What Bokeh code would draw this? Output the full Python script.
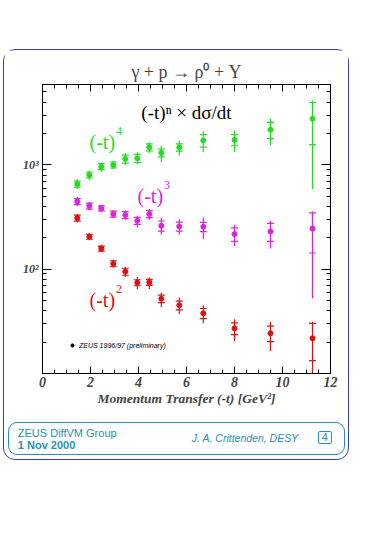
from bokeh.plotting import figure
from bokeh.layouts import column
from bokeh.models import (Range1d, LogAxis, LinearAxis, Label, Legend, Div,
                          LegendItem, ColumnDataSource, SingleIntervalTicker, LogTicker,
                          CustomJSTickFormatter)
from bokeh.embed import file_html
from bokeh.resources import INLINE

# ---------------- data ----------------
t = [1.45, 1.95, 2.45, 2.95, 3.45, 3.95, 4.45, 4.95, 5.7, 6.7, 8.0, 9.5, 11.25]

n4_val = [656, 802, 963, 1000, 1142, 1157, 1475, 1304, 1475, 1713, 1738, 2174, 2767]
n4_stat = [43, 53, 64, 66, 101, 103, 114, 111, 119, 235, 212, 385, 1200]
n4_hi = [733, 877, 1053, 1093, 1304, 1321, 1648, 1532, 1711, 2105, 2136, 2774, 4150]
n4_lo = [587, 718, 862, 915, 1000, 1013, 1292, 1059, 1227, 1322, 1324, 1536, 588]

n3_val = [446, 404, 383, 338, 331, 291, 338, 261, 257, 255, 217, 230, 245]
n3_stat = [29.6, 26.8, 21, 22.4, 25.6, 22.5, 26, 28.8, 25.6, 26.2, 32.1, 45, 102]
n3_hi = [495, 442, 412, 367, 366, 325, 378, 310, 302, 313, 267, 292, 358]
n3_lo = [402, 370, 356, 312, 300, 251, 296, 214, 214, 194, 167, 158, 52.6]

n2_val = [309, 205, 158, 113, 94.8, 74.3, 75, 52.1, 45.1, 37.8, 27.1, 24.3, 21.8]
n2_stat = [20.5, 11.3, 8.7, 7.5, 7.3, 4.9, 5.0, 4.2, 4.3, 4.2, 3.5, 4.1, 8.5]
n2_hi = [339, 221, 170, 123, 105, 84.3, 83.8, 59.5, 53.5, 45.1, 33.1, 31.2, 31.1]
n2_lo = [282, 190, 147, 104, 84.3, 64.1, 64.7, 43.3, 37, 30.3, 20.5, 16.4, 8]

x_ticks_labels = {0: "0", 2: "2", 4: "4", 6: "6", 8: "8", 10: "10", 12: "12"}
y_ticks_labels = {10: "", 100: "10²", 1000: "10³"}

GREEN = "#22dd22"
MAGENTA = "#dd22dd"
RED = "#dd1111"
BLUE = "#3a3ab8"
TEAL = "#2a8fb5"

# ---------------- figure ----------------
BL, BT, FW, FH, BR, BB = 38, 34, 288, 289, 18, 48
p = figure(frame_width=FW, frame_height=FH, min_border_left=BL, min_border_top=BT,
           min_border_right=BR, min_border_bottom=BB,
           x_range=Range1d(0, 12), y_range=Range1d(10, 5900), y_axis_type="log",
           output_backend="svg", toolbar_location=None,
           background_fill_color="white", border_fill_color="white",
           title="γ + p → ρ⁰ + Y", margin=0)
p.grid.visible = False
p.outline_line_color = "black"
p.outline_line_width = 1
p.title.align = "center"
p.title.text_font = "Liberation Serif"
p.title.text_font_size = "18px"
p.title.text_font_style = "normal"
p.title.standoff = 6

FL = 42      # page x of frame left
FB = 373     # page y of frame bottom


def sx(px):
    return px - FL


def sy(py):
    return FB - py


xa = p.xaxis[0]
xa.ticker = SingleIntervalTicker(interval=2, num_minor_ticks=4)
xa.major_label_overrides = x_ticks_labels
xa.major_tick_in = 7
xa.major_tick_out = 0
xa.minor_tick_in = 4
xa.minor_tick_out = 0
xa.major_label_standoff = 3
xa.major_label_text_font = "Liberation Serif"
xa.major_label_text_font_style = "bold italic"
xa.major_label_text_font_size = "14px"
xa.axis_label = "Momentum Transfer (-t) [GeV²]"
xa.axis_label_text_font = "Liberation Serif"
xa.axis_label_text_font_style = "bold italic"
xa.axis_label_text_font_size = "13.5px"
xa.axis_label_standoff = 1

ya = p.yaxis[0]
ya.ticker = LogTicker(num_minor_ticks=10)
ya.major_label_overrides = y_ticks_labels
ya.major_tick_in = 9
ya.major_tick_out = 0
ya.minor_tick_in = 4
ya.minor_tick_out = 0
ya.major_label_standoff = 4
ya.major_label_text_font = "Liberation Serif"
ya.major_label_text_font_style = "bold italic"
ya.major_label_text_font_size = "12px"

blank = CustomJSTickFormatter(code="return ''")
top = LinearAxis(ticker=SingleIntervalTicker(interval=2, num_minor_ticks=4), formatter=blank,
                 major_tick_in=7, major_tick_out=0, minor_tick_in=4, minor_tick_out=0,
                 major_label_standoff=0)
p.add_layout(top, "above")
right = LogAxis(ticker=LogTicker(num_minor_ticks=10), formatter=blank,
                major_tick_in=9, major_tick_out=0, minor_tick_in=4, minor_tick_out=0,
                major_label_standoff=0)
p.add_layout(right, "right")

# ---------------- data series ----------------
for vals, stat, hi, lo, col in [(n4_val, n4_stat, n4_hi, n4_lo, GREEN),
                                (n3_val, n3_stat, n3_hi, n3_lo, MAGENTA),
                                (n2_val, n2_stat, n2_hi, n2_lo, RED)]:
    src = ColumnDataSource(dict(
        t=t, v=vals, hi=hi, lo=lo,
        sup=[v + s for v, s in zip(vals, stat)],
        sdn=[v - s for v, s in zip(vals, stat)]))
    p.segment(x0="t", y0="lo", x1="t", y1="hi", source=src, line_color=col, line_width=1.2)
    p.scatter(x="t", y="sup", source=src, marker="dash", size=7, line_color=col, line_width=1.2)
    p.scatter(x="t", y="sdn", source=src, marker="dash", size=7, line_color=col, line_width=1.2)
    p.scatter(x="t", y="v", source=src, marker="circle", size=5, fill_color=col, line_color=col)

# legend (renderer holds no visible point; only its legend glyph is shown)
leg_r = p.scatter(x=[float("nan")], y=[float("nan")], marker="circle", size=5,
                  fill_color="black", line_color="black")
legend = Legend(items=[LegendItem(label="ZEUS 1996/97 (preliminary)", renderers=[leg_r])],
                location=(26, 24), padding=0, margin=0, spacing=0,
                glyph_width=8, glyph_height=8, label_height=8, label_standoff=3,
                label_text_font="Liberation Sans", label_text_font_style="italic",
                label_text_font_size="7px", label_text_color="black",
                background_fill_alpha=0, border_line_alpha=0)
p.add_layout(legend, "center")

# ---------------- texts inside the frame ----------------
def lab(text, px, py, size, color="black", font="Liberation Serif", style="normal",
        align="left", baseline="alphabetic"):
    p.add_layout(Label(x=sx(px), y=sy(py), x_units="screen", y_units="screen", text=text,
                       text_font=font, text_font_size=f"{size}px", text_font_style=style,
                       text_color=color, text_align=align, text_baseline=baseline))


lab("(-t)ⁿ × dσ/dt", 186, 112, 19, align="center")
lab("(-t)", 89, 141, 20, color=GREEN)
lab("4", 115.5, 130, 12, color=GREEN)
lab("(-t)", 137, 195, 20, color=MAGENTA)
lab("3", 163.5, 184, 12, color=MAGENTA)
lab("(-t)", 89, 299, 20, color=RED)
lab("2", 115.5, 288, 12, color=RED)

# ---------------- footer ----------------
span = ("position:absolute; white-space:nowrap; font-family:'Liberation Sans'; "
        "font-size:11px; line-height:11px; color:" + TEAL + ";")
footer_html = (
    f"<div style='position:relative; margin:0.7px 0 0 3.5px; width:337.5px; height:33.3px; "
    f"box-sizing:border-box; border:1.2px solid {TEAL}; border-radius:9px;'>"
    f"<span style=\"{span} left:9.3px; top:5.8px;\">ZEUS DiffVM Group</span>"
    f"<span style=\"{span} left:9.3px; top:17.8px; font-weight:bold;\">1 Nov 2000</span>"
    f"<span style=\"{span} left:183.3px; top:10.3px; font-style:italic; font-size:10.5px;\">"
    f"J. A. Crittenden, DESY</span>"
    f"<span style=\"{span} left:309.3px; top:8.1px; width:14px; height:13px; box-sizing:border-box; "
    f"border:1.2px solid {TEAL}; border-radius:2px; text-align:center; line-height:11px; "
    f"font-size:11px;\">4</span>"
    f"</div>")
footer = Div(text=footer_html, width=344, height=38, margin=0)

root = column(p, footer, margin=(49, 0, 0, 3), spacing=0,
              styles={"border": f"1px solid {BLUE}", "border-radius": "12px",
                      "background": "white"})

open("out.html", "w").write(file_html(root, INLINE))
